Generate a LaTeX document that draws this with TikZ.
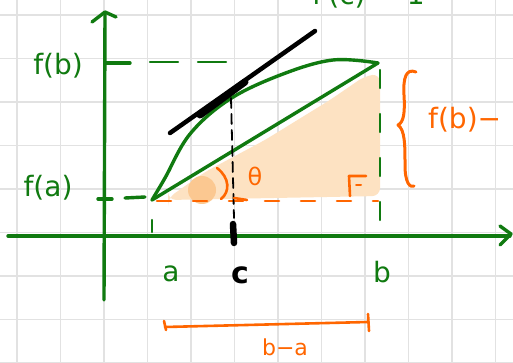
\documentclass[tikz,border=0pt]{standalone}
\usepackage{fontspec}
\setmainfont{DejaVu Sans}
\begin{document}
\begin{tikzpicture}[x=1pt,y=-1pt,line cap=round,line join=round,
  grn/.style={draw=penG,line width=3.4pt},
  grnd/.style={draw=penG,line width=2.4pt,dash pattern=on 22pt off 22pt},
  org/.style={draw=penO,line width=2.6pt},
  lbl/.style={inner sep=0pt,font=\fontsize{28}{28}\selectfont}]
\definecolor{penG}{RGB}{16,122,16}
\definecolor{penO}{RGB}{255,102,0}
\definecolor{peach}{RGB}{253,226,194}
\definecolor{peachD}{RGB}{251,200,145}
\definecolor{gridc}{RGB}{226,226,226}
\useasboundingbox (0,0) rectangle (513,363);
\clip (0,0) rectangle (513,363);
\fill[white] (0,0) rectangle (513,363);
% grid
\foreach \i in {0,...,11} {\draw[gridc,line width=1.1pt] ({17+43.5*\i},0) -- ({17+43.5*\i},363);}
\foreach \j in {0,...,8} {\draw[gridc,line width=1.1pt] (0,{15+43.5*\j}) -- (513,{15+43.5*\j});}
% key points
\coordinate (A) at (152,200);
\coordinate (B) at (378,63);
\coordinate (C) at (231,98);
% shading
\fill[peach,rounded corners=8pt] (168,198) -- (205,172) -- (265,140) -- (330,100) -- (365,76) -- (380,74) -- (380,196) -- (168,200) -- cycle;
\fill[peachD] (202,190) circle (14);
% axes
\coordinate (xl) at (8,236); \coordinate (xr) at (510,236);
\coordinate (yb) at (104,300); \coordinate (yt) at (105,13);
\draw[grn] (xl) -- (xr);
\draw[grn] (500,226) -- (511,234) -- (500,245);
\draw[grn] (yb) -- (yt);
\draw[grn] (92,22) -- (105,12) -- (116,17);
% f(b) level
\coordinate (fbt) at (130,63);
\coordinate (fbe) at (228,62);
\draw[grn] (105,63) -- (fbt);
\draw[grnd,dash pattern=on 28pt off 20pt] (150,62) -- (fbe);
% f(a) level
\draw[grn] (98,199) -- (112,199);
\draw[grn] (125,198) -- (145,197);
% verticals
\draw[grnd,dash pattern=on 18pt off 26pt] (380,70) -- (380,232);
\draw[draw=penG,line width=2.2pt] (152,220) -- (152,232);
% orange dashed baseline
\coordinate (o1) at (157,201); \coordinate (o2) at (378,201);
\draw[org,dash pattern=on 14pt off 22pt] (o1) -- (o2);
% curve and chord
\draw[grn] plot[smooth,tension=0.6] coordinates {(152,200) (165,178) (190,134) (230,99) (283,74) (333,60) (378,63)};
\draw[grn] (A) -- (B);
% tangent
\coordinate (t1) at (170,133); \coordinate (t2) at (315,31);
\draw[black,line width=4.5pt] (t1) -- (t2);
\draw[black,line width=7pt] (200,115) -- (245,82);
% c dashed and tick
\coordinate (cb) at (234,218);
\draw[black,line width=1.8pt,dash pattern=on 10pt off 6pt] (C) -- (cb);
\draw[black,line width=6.5pt] (233,224) -- (234,243);
% theta arc and right angle mark
\draw[org] (217,168) .. controls (230,178) and (230,192) .. (221,199);
\draw[org] (234,198) -- (247,200);
\draw[org] (350,196) -- (349,176) -- (366,176);
\draw[org,line width=2pt] (356,185) -- (361,185);
% brace
\draw[org,line width=3pt] (416,72) .. controls (406,68) and (403,78) .. (404,95)
   .. controls (405,112) and (404,122) .. (398,125)
   .. controls (405,130) and (405,145) .. (405,165)
   .. controls (405,183) and (410,188) .. (414,186);
% interval b-a
\coordinate (i1) at (165,327); \coordinate (i2) at (368,322);
\draw[org] (i1) -- (i2);
\draw[org] (164,321) -- (166,330);
\draw[org] (368,314) -- (369,331);
% labels
\node[lbl,text=penG] (lfb) at (58,66) {f(b)};
\node[lbl,text=penG] (lfa) at (48,188) {f(a)};
\node[lbl,text=penG] (la) at (171,274) {a};
\node[lbl,text=black,font=\fontsize{30}{30}\selectfont\bfseries] (lc) at (240,275) {c};
\node[lbl,text=penG] (lb) at (382,272) {b};
\node[lbl,text=penO,font=\fontsize{24}{24}\selectfont] (lth) at (255,176) {θ};
\node[lbl,text=penO,anchor=west] (lfd) at (428,120) {f(b)−};
\node[lbl,text=penO,font=\fontsize{22}{22}\selectfont] (lba) at (285,347) {b−a};
\node[lbl,text=penG,anchor=south west] (ltop) at (312,8) {f′(c) = 1};
\end{tikzpicture}
\end{document}
